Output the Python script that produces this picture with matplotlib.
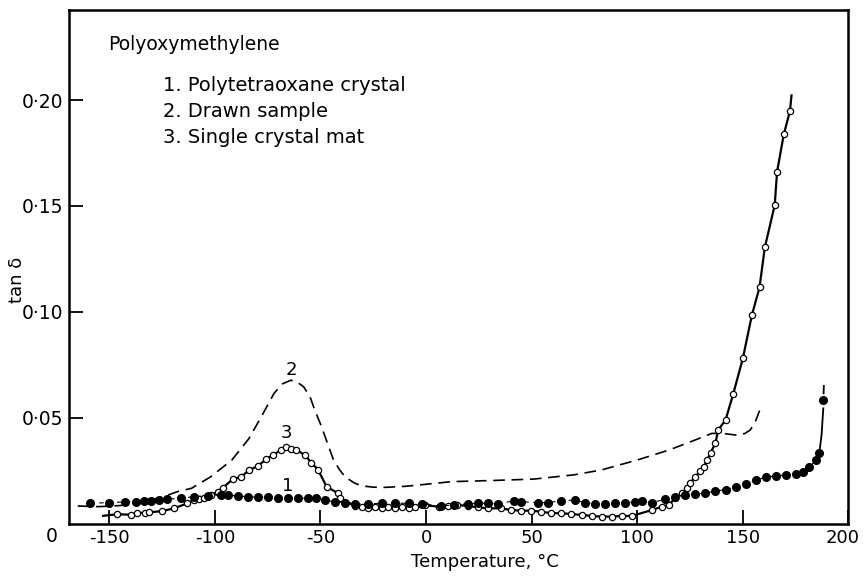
import matplotlib
matplotlib.use("Agg")
import matplotlib.pyplot as plt
from matplotlib.transforms import ScaledTranslation

plt.rcParams['font.family'] = 'DejaVu Sans'
plt.rcParams['axes.unicode_minus'] = False

# 1. Polytetraoxane crystal (filled dots)
c1_T = [-159, -150.3, -142.4, -137.6, -133.7, -130.5, -126.5, -122.5, -116, -109.8,
        -103.5, -97, -94, -89.2, -84.4, -79.7, -74.9, -70.1, -65.4, -60.6, -55.9,
        -51.9, -47.9, -43.2, -38.4, -33.7, -27.3, -21, -14.6, -8.3, -1.9, 7, 13.3,
        19.7, 24.4, 29.2, 34, 41.9, 45.1, 53, 57.8, 64.1, 70.5, 75.2, 80.2, 84.8,
        89.5, 94.3, 99, 102.2, 107, 113.3, 118, 122.9, 127.6, 132.4, 137.1, 141.9,
        146.7, 151.4, 156.2, 161, 165.7, 170.5, 175.2, 178.4, 181.6, 184.8, 186.3]
c1_y = [0.0096, 0.0099, 0.0102, 0.0102, 0.0107, 0.0108, 0.0111, 0.0115, 0.0120, 0.0127,
        0.0132, 0.0137, 0.0135, 0.0130, 0.0127, 0.0124, 0.0124, 0.0120, 0.0120, 0.0120,
        0.0120, 0.0120, 0.0111, 0.0103, 0.0099, 0.0093, 0.0093, 0.0096, 0.0096, 0.0096,
        0.0093, 0.0083, 0.0088, 0.0093, 0.0096, 0.0096, 0.0093, 0.0108, 0.0103, 0.0099,
        0.0099, 0.0108, 0.0111, 0.0099, 0.0093, 0.0093, 0.0096, 0.0096, 0.0103, 0.0108,
        0.0099, 0.0115, 0.0127, 0.0135, 0.0140, 0.0143, 0.0155, 0.0159, 0.0174, 0.0187,
        0.0206, 0.0219, 0.0225, 0.0230, 0.0233, 0.0245, 0.0266, 0.0300, 0.0332]
c1_tail_T = [186.3, 187.4, 188.2]
c1_tail_y = [0.0332, 0.042, 0.0544]
c1_last_T = [188.3]
c1_last_y = [0.0584]
c1_top_T = [188.35, 188.45]
c1_top_y = [0.0615, 0.0650]

# 2. Drawn sample (dashed curve)
c2_T = [-165, -155, -145, -135, -125, -118, -111, -102, -92, -84, -78, -72, -68, -64,
        -61, -58, -55, -52.7, -50, -47.8, -43.8, -41, -38.4, -34, -30.5, -25, -19.4,
        -10, -3.5, 12, 30, 51, 70, 83, 100, 115, 125, 135.5, 141, 147, 151, 153.6,
        156, 158.4]
c2_y = [0.0083, 0.0080, 0.0085, 0.0100, 0.0125, 0.0150, 0.0167, 0.0221, 0.0300, 0.0400,
        0.0505, 0.0615, 0.0660, 0.0677, 0.0668, 0.0646, 0.0600, 0.0536, 0.0470, 0.0410,
        0.0300, 0.0255, 0.0221, 0.0192, 0.0178, 0.0172, 0.0171, 0.0176, 0.0182, 0.0198,
        0.0203, 0.0210, 0.0230, 0.0253, 0.0300, 0.0347, 0.0385, 0.0426, 0.0425, 0.0418,
        0.0425, 0.0442, 0.0480, 0.0544]

# 3. Single crystal mat (open circles on solid line)
c3_T = [-146.3, -140, -136.8, -132.9, -131.3, -124.9, -119.4, -113, -109.8, -107.5,
        -105, -101.9, -98.7, -96.3, -91.6, -87.6, -83.7, -79.7, -75.7, -72.5, -68.6,
        -66.2, -63.8, -61.4, -57.5, -54.3, -51.1, -47.1, -41.6, -40.8, -33.7, -30.5,
        -27.3, -24.1, -21, -17.8, -14.6, -11.4, -8.3, -5.1, -0.3, 6.2, 10.2, 14.9,
        19.7, 24.4, 29.2, 35.5, 40.3, 45.1, 49.8, 54.6, 59.4, 64.1, 68.9, 73.7, 78.4,
        83.2, 88, 92.7, 97.5, 107, 111.8, 114.9, 118.1, 121.3, 123.7, 125.2, 127.6,
        130, 131.6, 133.2, 134.8, 137.1, 138.4, 141.9, 145.5, 150.1, 154.4, 158,
        160.5, 165.2, 166.3, 169.5, 172.4]
c3_y = [0.0044, 0.0042, 0.0049, 0.0052, 0.0053, 0.0059, 0.0072, 0.0096, 0.0111, 0.0116,
        0.0120, 0.0135, 0.0151, 0.0169, 0.0209, 0.0221, 0.0253, 0.0272, 0.0304, 0.0324,
        0.0348, 0.0360, 0.0354, 0.0348, 0.0324, 0.0288, 0.0253, 0.0174, 0.0143, 0.0120,
        0.0083, 0.0077, 0.0075, 0.0080, 0.0072, 0.0080, 0.0072, 0.0080, 0.0072, 0.0077,
        0.0086, 0.0080, 0.0083, 0.0088, 0.0083, 0.0077, 0.0072, 0.0072, 0.0064, 0.0061,
        0.0061, 0.0056, 0.0049, 0.0049, 0.0045, 0.0041, 0.0036, 0.0033, 0.0033, 0.0036,
        0.0036, 0.0064, 0.0080, 0.0088, 0.0120, 0.0143, 0.0167, 0.0193, 0.0221, 0.0250,
        0.0269, 0.0300, 0.0335, 0.0379, 0.0442, 0.0489, 0.0611, 0.0780, 0.0985, 0.1116,
        0.1304, 0.1504, 0.1661, 0.1838, 0.1948]
c3_start = (-153.5, 0.0036)
c3_end = (173.2, 0.2027)

x_ticks = [-150, -100, -50, 0, 50, 100, 150, 200]
y_ticks = [0.05, 0.10, 0.15, 0.20]
y_tick_labels = ['0·05', '0·10', '0·15', '0·20']
legend_lines = ['1. Polytetraoxane crystal', '2. Drawn sample', '3. Single crystal mat']

fig = plt.figure(figsize=(8.64, 5.76), dpi=100)
ax = fig.add_axes([0.0802, 0.091, 0.9015, 0.8916])

# curve 2
ax.plot(c2_T, c2_y, color='black', lw=1.2, dashes=(7, 4))

# curve 3
ax.plot([c3_start[0]] + c3_T + [c3_end[0]], [c3_start[1]] + c3_y + [c3_end[1]],
        color='black', lw=1.6, solid_capstyle='butt')
ax.plot(c3_T, c3_y, ls='none', marker='o', ms=4.5, mfc='white', mec='black', mew=0.9)

# curve 1
ax.plot(c1_T, c1_y, color='black', lw=0.8, dashes=(4, 4))
ax.plot(c1_T, c1_y, ls='none', marker='o', ms=5.5, color='black')
ax.plot(c1_tail_T, c1_tail_y, color='black', lw=1.3)
ax.plot(c1_last_T, c1_last_y, ls='none', marker='o', ms=5.5, color='black')
ax.plot(c1_top_T, c1_top_y, color='black', lw=1.3)

# curve numbers
ax.text(-64, 0.0725, '2', fontsize=13, ha='center', va='center')
ax.text(-66, 0.0428, '3', fontsize=13, ha='center', va='center')
ax.text(-65.5, 0.0178, '1', fontsize=13, ha='center', va='center')

ax.text(-150.5, 0.226, 'Polyoxymethylene', fontsize=13.5, ha='left', va='center')
for i, s in enumerate(legend_lines):
    ax.text(-124.8, 0.207 - i * 0.0123, s, fontsize=14, ha='left', va='center')

ax.set_xlim(-169, 200)
ax.set_ylim(0, 0.2425)
ax.set_xticks(x_ticks)
ax.set_yticks(y_ticks)
ax.set_yticklabels(y_tick_labels)
ax.tick_params(direction='in', length=10, width=1.3, labelsize=13.5, pad=4)
ax.tick_params(axis='x', labelsize=13)
for sp in ax.spines.values():
    sp.set_linewidth(1.8)

# keep the "200" label inside the figure
fig.canvas.draw()
last = ax.get_xticklabels()[-1]
last.set_transform(last.get_transform() + ScaledTranslation(-4 / 72, 0, fig.dpi_scale_trans))

ax.text(-0.022, -0.026, '0', transform=ax.transAxes, fontsize=13.5,
        ha='center', va='center')

ax.set_xlabel('Temperature, °C', fontsize=13)
ax.xaxis.set_label_coords(0.533, -0.058)
ax.set_ylabel('tan δ', fontsize=13)
ax.yaxis.set_label_coords(-0.056, 0.474)

fig.savefig('out.png', dpi=100)
